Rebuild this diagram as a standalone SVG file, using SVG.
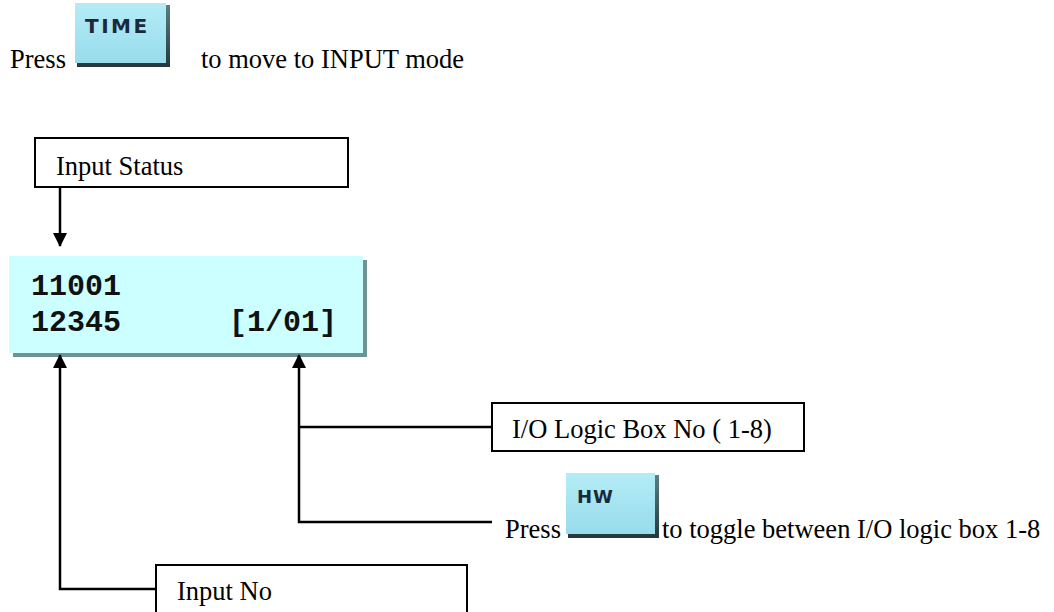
<svg xmlns="http://www.w3.org/2000/svg" width="1054" height="612" viewBox="0 0 1054 612">
<style>
.t{font-family:"Liberation Serif","Times New Roman",serif;font-size:26.5px;fill:#000}
.box{fill:#fff;stroke:#000;stroke-width:2}
.ln{fill:none;stroke:#000;stroke-width:2.5}
.lcd{font-family:"Liberation Mono","Courier New",monospace;font-size:30px;font-weight:bold;fill:#111}
.key{font-family:"DejaVu Sans",Verdana,sans-serif;font-weight:bold;fill:#1a2a3a}
</style>
<defs>
<linearGradient id="kg" x1="0" y1="0" x2="0" y2="1">
<stop offset="0" stop-color="#b4ecf6"/>
<stop offset="1" stop-color="#98dcec"/>
</linearGradient>
<linearGradient id="ks" x1="0" y1="0" x2="0" y2="1">
<stop offset="0" stop-color="#5a7f86"/>
<stop offset="1" stop-color="#24383c"/>
</linearGradient>
<marker id="ah" viewBox="0 0 14 15" refX="14" refY="7.5" markerWidth="15" markerHeight="14" markerUnits="userSpaceOnUse" orient="auto">
<path d="M0,0 L15,7.5 L0,15 Z" fill="#000"/>
</marker>
</defs>

<g id="instr-time">
<text class="t" x="10" y="68">Press</text>
<rect x="77" y="5" width="93" height="62" fill="url(#ks)"/>
<rect x="75" y="3" width="91" height="60" fill="url(#kg)"/>
<text class="key" x="85" y="33" font-size="20" letter-spacing="2.5">TIME</text>
<text class="t" x="201" y="68">to move to INPUT mode</text>
</g>

<g id="input-status">
<rect class="box" x="35" y="138" width="313" height="49"/>
<text class="t" x="56" y="175">Input Status</text>
</g>

<g id="lcd">
<rect x="13" y="260" width="354" height="97" fill="#6f9292"/>
<rect x="9" y="256" width="354" height="97" fill="#ccffff"/>
<text class="lcd" x="31" y="295">11001</text>
<text class="lcd" x="31" y="331" xml:space="preserve">12345      [1/01]</text>
</g>

<g id="io-logic-box">
<rect class="box" x="492" y="403" width="312" height="48"/>
<text class="t" x="512" y="438">I/O Logic Box No ( 1-8)</text>
</g>

<g id="instr-hw">
<text class="t" x="505" y="538">Press</text>
<rect x="568" y="475" width="91" height="63" fill="url(#ks)"/>
<rect x="566" y="473" width="89" height="61" fill="url(#kg)"/>
<text class="key" x="577" y="503" font-size="18" letter-spacing="1">HW</text>
<text class="t" x="662" y="538">to toggle between I/O logic box 1-8</text>
</g>

<g id="input-no">
<rect class="box" x="156" y="565" width="311" height="60"/>
<text class="t" x="177" y="600">Input No</text>
</g>

<g id="connectors">
<path class="ln" d="M60,187 V246" marker-end="url(#ah)"/>
<path class="ln" d="M156,589 H60 V355" marker-end="url(#ah)"/>
<path class="ln" d="M492,522 H299 V355" marker-end="url(#ah)"/>
<path class="ln" d="M492,427 H299"/>
</g>
</svg>
